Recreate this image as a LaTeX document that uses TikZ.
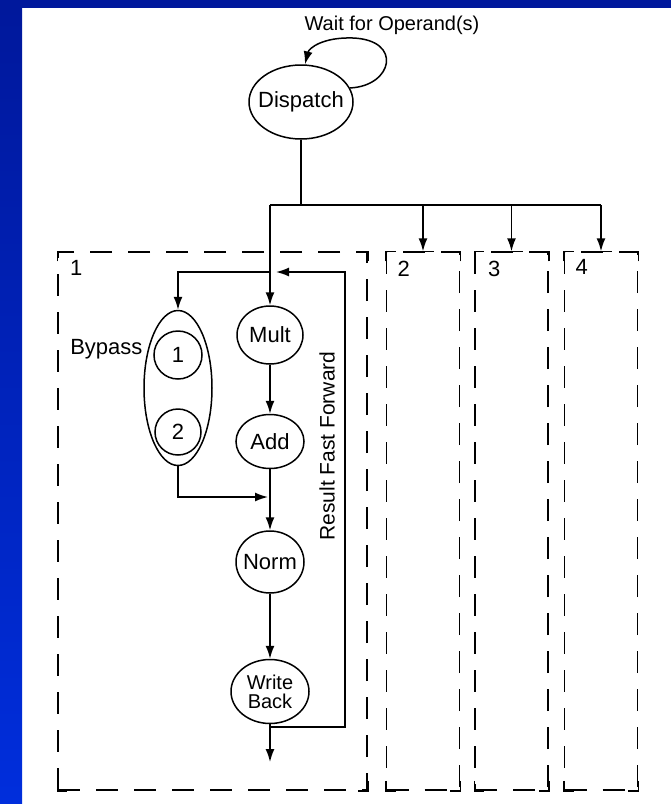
\documentclass[tikz,border=0pt]{standalone}
\usepackage{fontspec}
\setmainfont{Liberation Sans}
\usetikzlibrary{shapes.geometric,arrows.meta,positioning}

\definecolor{slidetop}{RGB}{0,24,156}
\definecolor{slidebot}{RGB}{0,46,220}

\begin{document}
\begin{tikzpicture}[
    x=1pt, y=-1pt,
    every node/.style={font=\fontsize{22}{18}\selectfont},
    unit/.style={draw, ellipse, line width=1.5pt, inner sep=0pt, inner xsep=-4pt, align=center},
    lane/.style={draw, dash pattern=on 22pt off 16pt, line width=1.5pt, minimum width=73pt, minimum height=538pt, inner sep=0pt},
    corner/.style={line width=1.5pt},
    arrow/.style={-{Latex[length=13pt,width=9pt]}, line width=1.5pt}
]
\useasboundingbox (0,0) rectangle (671,804);
\fill[slidetop] (0,0) rectangle (671,8);
\shade[top color=slidetop, bottom color=slidebot] (0,8) rectangle (22,804);

\node[font=\fontsize{20}{22}\selectfont] (wait) at (392,25) {Wait for Operand(s)};
\node[unit, inner xsep=-7pt, minimum width=104pt, minimum height=74pt] (disp) at (301,102) {Dispatch};

\node[lane, minimum width=309pt] (lane1) at (212.5,521) {};
\node[lane, right=18pt of lane1] (lane2) {};
\node[lane, right=14pt of lane2] (lane3) {};
\node[lane, right=15pt of lane3] (lane4) {};
\node at ([xshift=19pt,yshift=-17pt]lane1.north west) {1};
\node at ([xshift=18pt,yshift=-18pt]lane2.north west) {2};
\node at ([xshift=20pt,yshift=-18pt]lane3.north west) {3};
\node at ([xshift=18pt,yshift=-16pt]lane4.north west) {4};
\foreach \l in {lane1,lane2,lane3,lane4} {
    \draw[corner] ([yshift=-10pt]\l.north west) -- (\l.north west) -- ([xshift=10pt]\l.north west);
    \draw[corner] ([yshift=-10pt]\l.north east) -- (\l.north east) -- ([xshift=-10pt]\l.north east);
    \draw[corner] ([yshift=10pt]\l.south west) -- (\l.south west) -- ([xshift=10pt]\l.south west);
    \draw[corner] ([yshift=10pt]\l.south east) -- (\l.south east) -- ([xshift=-10pt]\l.south east);
}

\node[unit, minimum width=66pt, minimum height=58pt] (mult) at (270,335) {Mult};
\node[unit, minimum width=68pt, minimum height=54pt, below=49pt of mult] (add) {Add};
\node[unit, minimum width=68pt, minimum height=62pt, below=61pt of add] (norm) {Norm};
\node[unit, minimum width=78pt, minimum height=64pt, below=65pt of norm,
      font=\fontsize{20}{19}\selectfont] (wb) {Write\\Back};

\node[unit, minimum width=68pt, minimum height=155pt] (byp) at (178,388) {};
\node[unit, circle, inner sep=0pt, minimum size=48pt] (b1) at (178,355) {1};
\node[unit, circle, inner sep=0pt, minimum size=46pt] (b2) at (178,432) {2};
\node[anchor=east] (bypl) at (146,349) {Bypass};

\node[rotate=90, font=\fontsize{21}{22}\selectfont] (rff) at (327,446) {Result Fast Forward};

\coordinate (bus) at (301,205);
\coordinate (jn) at (268,497);
\coordinate (wbout) at (270,762);
\coordinate (fbs) at (270,727);
\coordinate (fbtop) at (345,272);
\coordinate (fbin) at (276,272);

\draw[arrow] (disp.16) .. controls (393,86) and (403,40) .. (353,38)
    .. controls (323,37) and (309,48) .. (disp.84);
\draw[line width=1.5pt] (disp) -- (bus);
\draw[line width=1.5pt] (mult.north |- bus) -- (lane4.north |- bus);
\draw[arrow] (mult.north |- bus) -- (mult);
\foreach \l in {lane2,lane3,lane4} {
    \draw[arrow] (\l.north |- bus) -- (\l.north);
    \draw[corner] ([xshift=-11pt]\l.north) -- ([xshift=11pt]\l.north);
}

\draw[arrow] (mult) -- (add);
\draw[arrow] (add) -- (norm);
\draw[arrow] (byp.south) |- (jn);
\draw[arrow] (norm) -- (wb);
\draw[arrow] (wb) -- (wbout);
\draw[arrow] (fbs) -| (fbtop) -- (fbin);
\draw[arrow] (mult.north |- fbin) -| (byp.north);
\end{tikzpicture}
\end{document}
